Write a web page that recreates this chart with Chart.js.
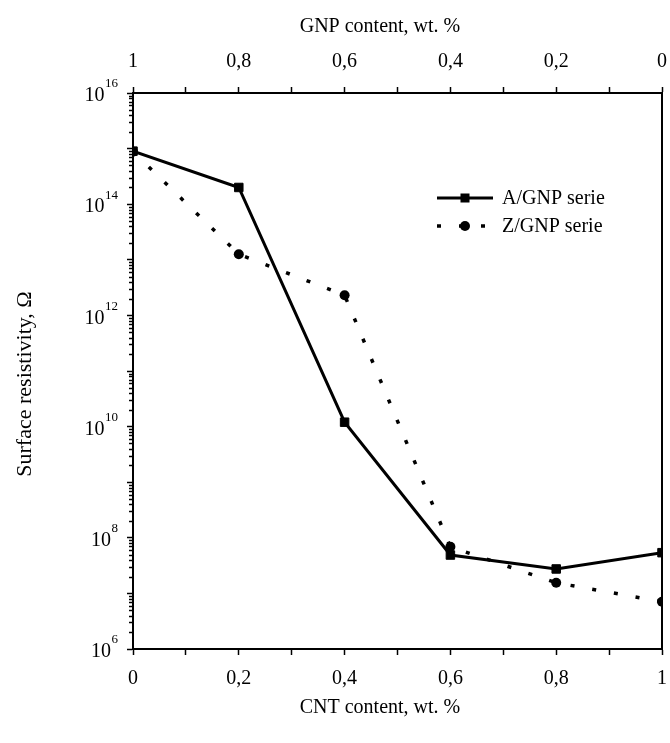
<!DOCTYPE html>
<html>
<head>
<meta charset="utf-8">
<script src="https://cdn.jsdelivr.net/npm/chart.js@4"></script>
<style>
html,body{margin:0;padding:0;background:#fff;}
#wrap{width:670px;height:743px;position:relative;}
canvas{display:block;}
</style>
</head>
<body>
<div id="wrap"><canvas id="c" width="670" height="743" style="width:670px;height:743px"></canvas></div>
<script>
// ---- data ----
const cntContent = [0, 0.2, 0.4, 0.6, 0.8, 1.0];
const aGnpSerie = [9.0e14, 2.0e14, 1.2e10, 4.9e7, 2.75e7, 5.4e7];
const zGnpSerie = [8.8e14, 1.26e13, 2.3e12, 6.9e7, 1.55e7, 7.1e6];
const seriesNames = ['A/GNP serie', 'Z/GNP serie'];
const cntTickLabels = ['0', '0,2', '0,4', '0,6', '0,8', '1'];
const gnpTickLabels = ['1', '0,8', '0,6', '0,4', '0,2', '0'];
const yLabelExponents = [16, 14, 12, 10, 8, 6];
const yDecadeMin = 6, yDecadeMax = 16;
const xTitleBottom = 'CNT content, wt. %';
const xTitleTop = 'GNP content, wt. %';
const yTitle = 'Surface resistivity, Ω';

const FONT = '"Liberation Serif", "Times New Roman", serif';

function isMajor(v) {
  const l = Math.log10(v);
  return Math.abs(l - Math.round(l)) < 1e-6;
}
function toPoints(xs, ys) { return xs.map((x, i) => ({x: x, y: ys[i]})); }

const decorPlugin = {
  id: 'decor',
  afterDraw(chart) {
    const ctx = chart.ctx, ys = chart.scales.y, area = chart.chartArea;
    ctx.save();
    ctx.strokeStyle = '#000';
    ctx.fillStyle = '#000';
    // right frame line
    ctx.lineWidth = 2;
    ctx.beginPath();
    ctx.moveTo(area.right, area.top - 1);
    ctx.lineTo(area.right, area.bottom + 1);
    ctx.stroke();
    // minor ticks on y
    ctx.lineWidth = 1.5;
    ys.ticks.forEach(t => {
      if (!isMajor(t.value)) {
        const py = Math.round(ys.getPixelForValue(t.value)) + 0.5;
        ctx.beginPath();
        ctx.moveTo(area.left, py);
        ctx.lineTo(area.left - 4, py);
        ctx.stroke();
      }
    });
    // y labels 10^n
    const rightEdge = area.left - 15;
    ctx.textAlign = 'right';
    ctx.textBaseline = 'middle';
    yLabelExponents.forEach(e => {
      const py = ys.getPixelForValue(Math.pow(10, e));
      const es = String(e);
      ctx.font = '13px ' + FONT;
      const ew = ctx.measureText(es).width;
      ctx.fillText(es, rightEdge, py - 9);
      ctx.font = '20px ' + FONT;
      ctx.fillText('10', rightEdge - ew - 0.5, py + 3);
    });
    // axis titles
    ctx.font = '20px ' + FONT;
    ctx.textAlign = 'center';
    ctx.textBaseline = 'middle';
    ctx.fillText(xTitleTop, 380, 27);
    ctx.fillText(xTitleBottom, 380, 708);
    ctx.save();
    ctx.font = '22px ' + FONT;
    ctx.translate(25, 384);
    ctx.rotate(-Math.PI / 2);
    ctx.fillText(yTitle, 0, 0);
    ctx.restore();
    // legend
    const lx0 = 437, lx1 = 493, lm = 465, tx = 502;
    const rows = [198, 226];
    ctx.lineWidth = 3;
    ctx.setLineDash([]);
    ctx.beginPath(); ctx.moveTo(lx0, rows[0]); ctx.lineTo(lx1, rows[0]); ctx.stroke();
    ctx.fillRect(lm - 4.5, rows[0] - 4.5, 9, 9);
    ctx.lineWidth = 3.5;
    ctx.setLineDash([4, 18]);
    ctx.beginPath(); ctx.moveTo(lx0, rows[1]); ctx.lineTo(lx1, rows[1]); ctx.stroke();
    ctx.setLineDash([]);
    ctx.beginPath(); ctx.arc(lm, rows[1], 5, 0, Math.PI * 2); ctx.fill();
    ctx.font = '20px ' + FONT;
    ctx.textAlign = 'left';
    ctx.textBaseline = 'middle';
    ctx.fillText(seriesNames[0], tx, rows[0] + 1);
    ctx.fillText(seriesNames[1], tx, rows[1] + 1);
    ctx.restore();
  }
};

const xTickCb = labels => function(value) {
  const k = Math.round(value * 10);
  if (k % 2 !== 0) return '';
  return labels[k / 2];
};
const noSidePad = h => s => { s.height = h; s.paddingLeft = 0; s.paddingRight = 0; };

new Chart(document.getElementById('c'), {
  type: 'line',
  data: {
    datasets: [
      {
        label: seriesNames[0],
        data: toPoints(cntContent, aGnpSerie),
        borderColor: '#000',
        backgroundColor: '#000',
        borderWidth: 3,
        pointStyle: 'rect',
        pointRadius: 6,
        pointBorderWidth: 1,
        tension: 0,
        order: 0
      },
      {
        label: seriesNames[1],
        data: toPoints(cntContent, zGnpSerie),
        borderColor: '#000',
        backgroundColor: '#000',
        borderWidth: 3.5,
        borderDash: [4, 18],
        pointStyle: 'circle',
        pointRadius: 5,
        pointBorderWidth: 0,
        tension: 0,
        order: 1
      }
    ]
  },
  options: {
    responsive: false,
    animation: false,
    devicePixelRatio: 1,
    layout: {padding: {left: 0, right: 8, top: 0, bottom: 0}},
    plugins: {legend: {display: false}, tooltip: {enabled: false}},
    scales: {
      x: {
        type: 'linear', position: 'bottom', min: 0, max: 1,
        afterFit: noSidePad(94),
        ticks: {stepSize: 0.1, autoSkip: false, maxRotation: 0, padding: 12,
          color: '#000', font: {family: FONT, size: 20}, callback: xTickCb(cntTickLabels)},
        grid: {drawOnChartArea: false, tickLength: 6, tickWidth: 1.5, tickColor: '#000'},
        border: {display: true, color: '#000', width: 2},
        title: {display: false}
      },
      x2: {
        type: 'linear', position: 'top', min: 0, max: 1,
        afterFit: noSidePad(93),
        ticks: {stepSize: 0.1, autoSkip: false, maxRotation: 0, padding: 13,
          color: '#000', font: {family: FONT, size: 20}, callback: xTickCb(gnpTickLabels)},
        grid: {drawOnChartArea: false, tickLength: 6, tickWidth: 1.5, tickColor: '#000'},
        border: {display: true, color: '#000', width: 2},
        title: {display: false}
      },
      y: {
        type: 'logarithmic', position: 'left', min: Math.pow(10, yDecadeMin), max: Math.pow(10, yDecadeMax),
        afterFit: s => { s.width = 133; s.paddingTop = 0; s.paddingBottom = 0; },
        afterBuildTicks: s => {
          const t = [];
          for (let e = yDecadeMin; e < yDecadeMax; e++) {
            for (let m = 1; m <= 9; m++) t.push({value: m * Math.pow(10, e)});
          }
          t.push({value: Math.pow(10, yDecadeMax)});
          s.ticks = t;
        },
        ticks: {autoSkip: false, callback: () => '', font: {family: FONT, size: 20}},
        grid: {drawOnChartArea: false, tickLength: 6, tickWidth: 1.5,
          tickColor: c => (c.tick && isMajor(c.tick.value)) ? '#000' : 'rgba(0,0,0,0)'},
        border: {display: true, color: '#000', width: 2},
        title: {display: false}
      }
    }
  },
  plugins: [decorPlugin]
});
</script>
</body>
</html>
